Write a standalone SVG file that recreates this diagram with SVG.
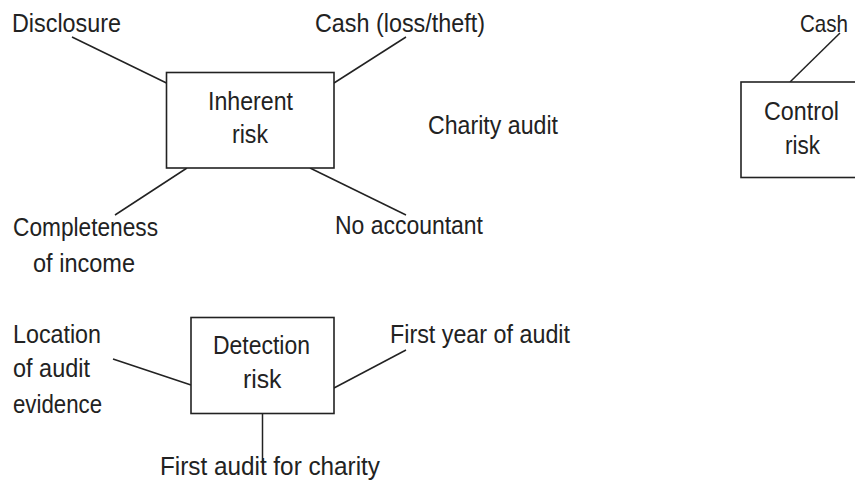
<svg xmlns="http://www.w3.org/2000/svg" width="855" height="490" viewBox="0 0 855 490">
<style>
text{font-family:"Liberation Sans Narrow","Liberation Sans",Arial,sans-serif;font-size:25px;fill:#222;}
.box{fill:#fff;stroke:#222;stroke-width:1.6;}
.ln{stroke:#222;stroke-width:1.5;fill:none;}
</style>
<rect width="855" height="490" fill="#fff"/>
<g id="connectors">
<line class="ln" x1="72" y1="37" x2="166.5" y2="83"/>
<line class="ln" x1="406" y1="37" x2="334" y2="83"/>
<line class="ln" x1="187" y1="168" x2="115" y2="215"/>
<line class="ln" x1="310" y1="168" x2="406" y2="215"/>
<line class="ln" x1="840" y1="33" x2="790" y2="82"/>
<line class="ln" x1="113" y1="359" x2="191" y2="385"/>
<line class="ln" x1="406" y1="350" x2="334" y2="388"/>
<line class="ln" x1="262.5" y1="413.5" x2="262.5" y2="462"/>
</g>
<g id="inherent-risk">
<rect class="box" x="166.5" y="72.5" width="167.5" height="95.5"/>
<text x="208" y="110" textLength="85" lengthAdjust="spacingAndGlyphs">Inherent</text>
<text x="232" y="143" textLength="36" lengthAdjust="spacingAndGlyphs">risk</text>
</g>
<g id="control-risk">
<rect class="box" x="741" y="82" width="130" height="95.5"/>
<text x="764" y="120" textLength="75" lengthAdjust="spacingAndGlyphs">Control</text>
<text x="785" y="153.5" textLength="35" lengthAdjust="spacingAndGlyphs">risk</text>
</g>
<g id="detection-risk">
<rect class="box" x="191" y="317.5" width="143" height="96"/>
<text x="213" y="353.5" textLength="97" lengthAdjust="spacingAndGlyphs">Detection</text>
<text x="243" y="387.5" textLength="38.5" lengthAdjust="spacingAndGlyphs">risk</text>
</g>
<g id="disclosure"><text x="12" y="31.5" textLength="109" lengthAdjust="spacingAndGlyphs">Disclosure</text></g>
<g id="cash-loss"><text x="315" y="31.5" textLength="170" lengthAdjust="spacingAndGlyphs">Cash (loss/theft)</text></g>
<g id="charity-audit"><text x="428" y="133.5" textLength="130" lengthAdjust="spacingAndGlyphs">Charity audit</text></g>
<g id="completeness">
<text x="13" y="236" textLength="145" lengthAdjust="spacingAndGlyphs">Completeness</text>
<text x="33" y="271.5" textLength="102" lengthAdjust="spacingAndGlyphs">of income</text>
</g>
<g id="no-accountant"><text x="335" y="233.5" textLength="148" lengthAdjust="spacingAndGlyphs">No accountant</text></g>
<g id="cash-control"><text x="800" y="31.5" style="font-size:24px" textLength="48" lengthAdjust="spacingAndGlyphs">Cash</text></g>
<g id="location">
<text x="13" y="343.3" textLength="88" lengthAdjust="spacingAndGlyphs">Location</text>
<text x="13" y="377.3" textLength="77" lengthAdjust="spacingAndGlyphs">of audit</text>
<text x="13" y="412.7" textLength="89" lengthAdjust="spacingAndGlyphs">evidence</text>
</g>
<g id="first-year"><text x="390" y="343.3" textLength="180" lengthAdjust="spacingAndGlyphs">First year of audit</text></g>
<g id="first-audit"><text x="160" y="475" textLength="220" lengthAdjust="spacingAndGlyphs">First audit for charity</text></g>
</svg>
